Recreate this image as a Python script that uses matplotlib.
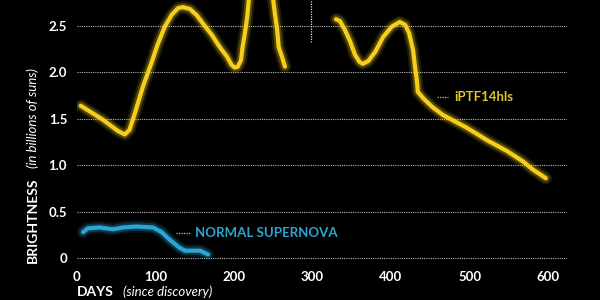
import matplotlib.pyplot as plt

# Données (jours depuis la découverte, luminosité en milliards de soleils)
jours_ptf_a = [5, 33, 52, 61, 67, 74, 84, 95, 103, 112, 121, 129, 135, 144, 153, 160, 172, 182,
               191, 197, 201, 205, 209, 211, 214, 217, 222, 233, 245, 250, 252, 255, 257, 261, 265]
lum_ptf_a = [1.64, 1.49, 1.37, 1.33, 1.38, 1.56, 1.84, 2.10, 2.30, 2.49, 2.62, 2.69, 2.70, 2.68, 2.61, 2.53, 2.40, 2.27,
             2.17, 2.08, 2.05, 2.06, 2.13, 2.27, 2.42, 2.60, 3.05, 3.30, 3.05, 2.78, 2.64, 2.46, 2.27, 2.17, 2.06]

jours_ptf_b = [330, 335, 341, 348, 354, 360, 364, 371, 380, 390, 401, 411, 418, 423, 428, 431, 433,
               434, 441, 452, 466, 497, 522, 548, 568, 581, 590, 597]
lum_ptf_b = [2.57, 2.55, 2.46, 2.33, 2.19, 2.11, 2.09, 2.12, 2.22, 2.38, 2.49, 2.54, 2.51, 2.42, 2.24, 2.03, 1.90,
             1.79, 1.72, 1.63, 1.54, 1.40, 1.27, 1.15, 1.04, 0.95, 0.90, 0.86]

jours_normale = [8, 14, 29, 46, 59, 76, 97, 108, 118, 131, 138, 157, 167]
lum_normale = [0.28, 0.32, 0.33, 0.31, 0.33, 0.34, 0.33, 0.28, 0.20, 0.11, 0.08, 0.08, 0.04]

graduations_y = [0, 0.5, 1.0, 1.5, 2.0, 2.5]
etiquettes_y = ["0", "0.5", "1.0", "1.5", "2.0", "2.5"]
graduations_x = [0, 100, 200, 300, 400, 500, 600]

# repère vertical pointillé (étiquette coupée en haut)
repere_jour = 298
repere_bas = 2.32

jaune = "#f5cf1c"
bleu = "#2aa6d2"

plt.rcParams['font.family'] = ['Lato', 'DejaVu Sans']

fig = plt.figure(figsize=(6, 3), dpi=100, facecolor="black")
ax = fig.add_axes([0.128, 0.124, 0.817, 0.877])
ax.set_facecolor("black")
ax.set_xlim(0, 624)
ax.set_ylim(-0.05, 2.78)

# Grille horizontale pointillée
for g in graduations_y:
    ax.axhline(g, color="#b8b8b8", lw=0.8, ls=(0, (1, 1)), zorder=1)

ax.plot([repere_jour, repere_jour], [repere_bas, 3.0], color="#dddddd", lw=0.9, ls=(0, (1, 1)), zorder=1)


def trace_lumineux(x, y, couleur):
    # effet de halo
    style = dict(solid_capstyle="round", solid_joinstyle="round")
    ax.plot(x, y, color=couleur, lw=9, alpha=0.12, zorder=2, **style)
    ax.plot(x, y, color=couleur, lw=6, alpha=0.25, zorder=3, **style)
    ax.plot(x, y, color=couleur, lw=3, zorder=4, **style)


trace_lumineux(jours_ptf_a, lum_ptf_a, jaune)
trace_lumineux(jours_ptf_b, lum_ptf_b, jaune)
trace_lumineux(jours_normale, lum_normale, bleu)

# Étiquettes des courbes
ax.plot([459, 473], [1.73, 1.73], color="#bbbbbb", lw=0.9, ls=(0, (1, 1)))
ax.text(481, 1.73, "iPTF14hls", color="#e2c32a", fontsize=9.5, fontweight="bold", va="center")
ax.plot([126, 144], [0.27, 0.27], color="#bbbbbb", lw=0.9, ls=(0, (1, 1)))
ax.text(150, 0.27, "NORMAL SUPERNOVA", color=bleu, fontsize=9.5, fontweight="bold", va="center")

ax.set_yticks(graduations_y)
ax.set_yticklabels(etiquettes_y)
ax.set_xticks(graduations_x)
ax.tick_params(length=0, colors="white", labelsize=9.5, pad=7)
ax.tick_params(axis="x", pad=6)
for lab in ax.get_xticklabels() + ax.get_yticklabels():
    lab.set_fontweight("bold")
for s in ax.spines.values():
    s.set_visible(False)

# Titres des axes
fig.text(0.055, (300 - 263) / 300, "BRIGHTNESS", rotation=90, color="white", fontsize=10,
         fontweight="bold", ha="center", va="bottom")
fig.text(0.055, (300 - 168) / 300, "(in billions of suns)", rotation=90, color="white", fontsize=9.5,
         fontstyle="italic", ha="center", va="bottom")
fig.text(77 / 600, 0.006, "DAYS", color="white", fontsize=10, fontweight="bold", ha="left", va="bottom")
fig.text(123 / 600, 0.006, "(since discovery)", color="white", fontsize=9.5, fontstyle="italic", ha="left", va="bottom")

plt.savefig("out.png", dpi=100, facecolor="black")
